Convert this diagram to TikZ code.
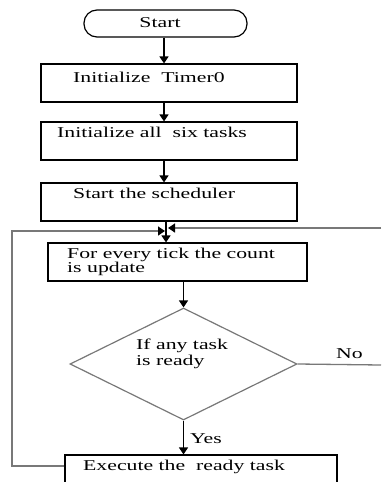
\documentclass[tikz,border=0pt]{standalone}
\usepackage{fontspec}
\setmainfont{Liberation Serif}
\usetikzlibrary{arrows.meta,shapes.geometric}
\newcommand{\wide}[1]{\scalebox{1.45}[1]{#1}}
\definecolor{linegray}{RGB}{120,120,120}
\begin{document}
\begin{tikzpicture}[x=1pt,y=-1pt,
  boxnode/.style={draw=black, line width=1.2pt, inner sep=0pt},
  txt/.style={anchor=base west, inner sep=0pt, font=\fontsize{15}{17}\selectfont},
  arr/.style={line width=1.2pt, -{Triangle[length=7pt,width=9pt]}},
  grayline/.style={draw=linegray, line width=1.3pt},
  grayarr/.style={draw=linegray, line width=1.3pt, -{Triangle[length=7pt,width=9pt,color=black,fill=black]}}]
\useasboundingbox (0,0) rectangle (381,482);
\clip (0,0) rectangle (381,482);
% nodes
\node[boxnode, rounded corners=13pt, minimum width=163pt, minimum height=27pt] (start) at (165.5,23.5) {};
\node[txt, anchor=base] (tstart) at (160,27) {\wide{Start}};
\node[boxnode, minimum width=256pt, minimum height=38pt] (b1) at (169,83) {};
\node[txt] (t1) at (73,82) {\wide{Initialize\ \ Timer0}};
\node[boxnode, minimum width=256pt, minimum height=38pt] (b2) at (169,141) {};
\node[txt] (t2) at (57,137) {\wide{Initialize all\ \ six tasks}};
\node[boxnode, minimum width=256pt, minimum height=38pt] (b3) at (169,202) {};
\node[txt] (t3) at (73,198) {\wide{Start the scheduler}};
\node[boxnode, minimum width=259pt, minimum height=38pt] (b4) at (177.5,262) {};
\node[txt] (t4a) at (67,258) {\wide{For every tick the count}};
\node[txt] (t4b) at (67,272) {\wide{is update}};
\node[draw=linegray, line width=1.2pt, diamond, inner sep=0pt, minimum width=227pt, minimum height=112pt] (dec) at (183.5,364) {};
\node[txt] (t5a) at (136,349) {\wide{If any task}};
\node[txt] (t5b) at (136,365) {\wide{is ready}};
\node[txt] (tno) at (336,358) {\wide{No}};
\node[txt] (tyes) at (190,443) {\wide{Yes}};
\node[boxnode, minimum width=272pt, minimum height=50pt] (b5) at (201,480) {};
\node[txt] (t6) at (83,470) {\wide{Execute the\ \ ready task}};
% connector coordinates
\coordinate (join) at (166,221);
\coordinate (loopL) at (12,231);
\coordinate (loopB) at (12,466);
\coordinate (tipL) at (165,231);
\coordinate (rightIn) at (381,228);
\coordinate (tipR) at (168,228);
\coordinate (noEnd) at (381,365);
% connectors
\draw[arr] (start.south -| 164,0) -- (b1.north -| 164,0);
\draw[arr] (b1.south -| 164,0) -- (b2.north -| 164,0);
\draw[arr] (b2.south -| 164,0) -- (b3.north -| 164,0);
\draw[arr] (b3.south -| join) -- (b4.north -| join);
\draw[arr] (b4.south -| dec.north) -- (dec.north);
\draw[arr] (dec.south) -- (b5.north -| dec.south);
\draw[grayarr] (b5.west |- loopB) -- (loopB) -- (loopL) -- (tipL);
\draw[grayarr] (rightIn) -- (tipR);
\draw[grayline] (dec.east) -- (noEnd);
\end{tikzpicture}
\end{document}
